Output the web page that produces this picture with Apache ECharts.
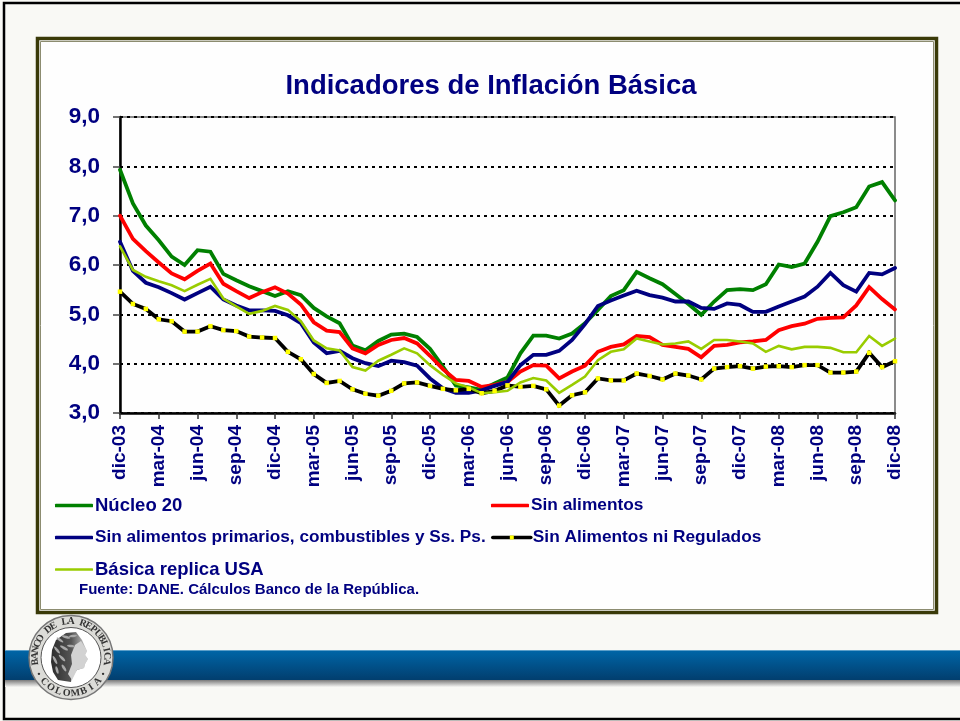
<!DOCTYPE html>
<html>
<head>
<meta charset="utf-8">
<script src="https://cdn.jsdelivr.net/npm/echarts@6/dist/echarts.min.js"></script>
<style>html,body{margin:0;padding:0;background:#f9f9f5}#c{width:960px;height:721px}</style>
</head>
<body>
<div id="c"></div>
<script>
const titleText = 'Indicadores de Inflación Básica';
const sourceText = 'Fuente: DANE. Cálculos Banco de la República.';
const categories = [
'dic-03','ene-04','feb-04','mar-04','abr-04','may-04','jun-04','jul-04','ago-04','sep-04','oct-04','nov-04',
'dic-04','ene-05','feb-05','mar-05','abr-05','may-05','jun-05','jul-05','ago-05','sep-05','oct-05','nov-05',
'dic-05','ene-06','feb-06','mar-06','abr-06','may-06','jun-06','jul-06','ago-06','sep-06','oct-06','nov-06',
'dic-06','ene-07','feb-07','mar-07','abr-07','may-07','jun-07','jul-07','ago-07','sep-07','oct-07','nov-07',
'dic-07','ene-08','feb-08','mar-08','abr-08','may-08','jun-08','jul-08','ago-08','sep-08','oct-08','nov-08','dic-08'];
const nucleo20 = [7.93,7.25,6.8,6.5,6.17,6.0,6.3,6.27,5.82,5.69,5.57,5.47,5.37,5.47,5.39,5.13,4.96,4.82,4.37,4.27,4.46,4.59,4.61,4.54,4.3,3.94,3.56,3.52,3.47,3.6,3.72,4.21,4.57,4.57,4.51,4.61,4.82,5.09,5.37,5.49,5.86,5.73,5.61,5.41,5.21,4.99,5.26,5.49,5.51,5.49,5.61,6.01,5.96,6.03,6.47,6.99,7.07,7.17,7.59,7.68,7.31];
const sinAlimentos = [7.0,6.53,6.28,6.05,5.83,5.71,5.88,6.03,5.62,5.47,5.33,5.45,5.55,5.42,5.2,4.84,4.67,4.64,4.31,4.21,4.38,4.48,4.52,4.41,4.16,3.89,3.67,3.65,3.53,3.57,3.63,3.84,3.97,3.96,3.7,3.84,3.96,4.24,4.34,4.39,4.56,4.54,4.38,4.34,4.3,4.13,4.36,4.38,4.43,4.45,4.48,4.68,4.76,4.81,4.91,4.93,4.94,5.18,5.55,5.31,5.1];
const sinPrimarios = [6.47,5.88,5.64,5.55,5.43,5.3,5.43,5.56,5.3,5.18,5.08,5.08,5.07,4.98,4.82,4.43,4.21,4.26,4.11,4.01,3.95,4.06,4.03,3.96,3.7,3.5,3.41,3.41,3.46,3.55,3.63,3.97,4.18,4.18,4.26,4.48,4.8,5.17,5.28,5.38,5.48,5.39,5.34,5.26,5.26,5.13,5.11,5.22,5.19,5.05,5.05,5.16,5.26,5.36,5.56,5.84,5.59,5.46,5.84,5.81,5.94];
const sinRegulados = [5.46,5.21,5.11,4.9,4.86,4.65,4.65,4.76,4.68,4.66,4.55,4.53,4.52,4.24,4.09,3.79,3.61,3.65,3.48,3.39,3.35,3.45,3.6,3.62,3.55,3.49,3.46,3.49,3.4,3.45,3.56,3.53,3.55,3.48,3.15,3.36,3.42,3.7,3.66,3.66,3.8,3.75,3.68,3.8,3.76,3.68,3.9,3.93,3.95,3.9,3.94,3.95,3.93,3.97,3.97,3.82,3.82,3.84,4.22,3.93,4.05];
const basicaUSA = [6.38,5.9,5.76,5.67,5.59,5.47,5.6,5.72,5.32,5.16,5.01,5.07,5.17,5.09,4.86,4.47,4.31,4.27,3.93,3.86,4.06,4.18,4.31,4.21,3.97,3.77,3.6,3.52,3.4,3.42,3.45,3.62,3.71,3.66,3.41,3.57,3.74,4.07,4.24,4.29,4.51,4.45,4.39,4.41,4.45,4.3,4.48,4.48,4.45,4.41,4.24,4.36,4.29,4.34,4.34,4.32,4.23,4.23,4.56,4.36,4.51];
const navy = '#000080';
const font = '"Liberation Sans", Arial, sans-serif';

function mkLine(name, data, color, width, extra) {
  return Object.assign({
    name, type: 'line', data, symbol: 'none', showSymbol: false, smooth: false,
    lineStyle: { color, width, cap: 'round', join: 'miter' },
    itemStyle: { color }, silent: true, animation: false
  }, extra || {});
}
function mkLegend(name, left, top, fs, color, h) {
  const item = color ? { name, icon: 'roundRect', itemStyle: { color } } : { name };
  return {
    data: [item], left, top, padding: 0, itemWidth: 38, itemHeight: h, symbolSize: 4.5,
    lineStyle: { width: 3.6 },
    textStyle: { color: navy, fontFamily: font, fontWeight: 'bold', fontSize: fs, padding: [0,0,0,-3] },
    selectedMode: false
  };
}

// Seal lettering
const cx = 71, cy = 657.5;
const sealEls = [];
function ringText(str, from, to, r, bottom) {
  const n = str.length;
  for (let i = 0; i < n; i++) {
    const t = (from + (to - from) * i / (n - 1)) * Math.PI / 180;
    if (str[i] === ' ') continue;
    sealEls.push({
      type: 'text', x: cx + r * Math.sin(t), y: cy - r * Math.cos(t),
      rotation: bottom ? Math.PI - t : -t, z: 6,
      style: { text: str[i], fill: '#333', font: 'bold 10px "Liberation Serif", serif', align: 'center', verticalAlign: 'middle' }
    });
  }
}
ringText('BANCO DE LA REPUBLICA', -97, 97, 36, false);
ringText('COLOMBIA', 228, 132, 36, true);
[-117, 117].forEach(d => {
  const t = d * Math.PI / 180;
  sealEls.push({ type: 'circle', z: 6, shape: { cx: cx + 36 * Math.sin(t), cy: cy - 36 * Math.cos(t), r: 1.2 }, style: { fill: '#333' } });
});
// Laurel strokes in the hair
[[60,640,8,-0.6],[66,637,9,-0.3],[73,636,8,0.1],[57,650,9,-0.9],[64,648,9,-0.5],[71,646,8,-0.1],[55,660,9,-1.1],[62,658,9,-0.8],[57,670,8,-1.3],[64,668,8,-1]].forEach(p => {
  sealEls.push({ type: 'ellipse', z: 7, shape: { cx: 0, cy: 0, rx: p[2] / 2, ry: 1.3 }, x: p[0], y: p[1], rotation: p[3], style: { fill: '#a8a8a8' } });
});

const option = {
  backgroundColor: '#f9f9f5',
  animation: false,
  title: { text: titleText, left: 486, textAlign: 'center', top: 67, textStyle: { color: navy, fontFamily: font, fontWeight: 'bold', fontSize: 27.5 } },
  grid: { left: 120, right: 65, top: 117, bottom: 308, show: true, backgroundColor: 'transparent', borderColor: '#666', borderWidth: 1.5 },
  legend: [
    mkLegend('Núcleo 20', 55, 496, 18.5, '#008000', 3.6),
    mkLegend('Sin alimentos', 491, 497, 17.3, '#ff0000', 3.6),
    mkLegend('Sin alimentos primarios, combustibles y Ss. Ps.', 55, 529, 17.2, '#000080', 3.6),
    mkLegend('Sin Alimentos ni Regulados', 491, 529, 17.3, null, 5),
    mkLegend('Básica replica USA', 55, 560, 18.5, '#99cc00', 2.6)
  ],
  xAxis: {
    type: 'category', data: categories, boundaryGap: false,
    axisLine: { lineStyle: { color: '#000', width: 2.5 } },
    axisTick: { interval: 2, length: 6, lineStyle: { color: '#333', width: 1.5 } },
    axisLabel: { interval: 2, rotate: 90, margin: 12, color: navy, fontFamily: font, fontWeight: 'bold', fontSize: 19, hideOverlap: false, showMaxLabel: true },
    splitLine: { show: false }
  },
  yAxis: {
    type: 'value', min: 3, max: 9, interval: 1,
    axisLine: { show: true, lineStyle: { color: '#000', width: 2.5 } },
    axisTick: { show: true, length: 7, lineStyle: { color: '#444', width: 1.5 } },
    axisLabel: { margin: 20, color: navy, fontFamily: font, fontWeight: 'bold', fontSize: 22.5, padding: [2, 0, 0, 0], formatter: v => v.toFixed(1).replace('.', ',') },
    splitLine: { show: true, lineStyle: { color: '#000', width: 2, type: [3, 4] } }
  },
  series: [
    mkLine('Núcleo 20', nucleo20, '#008000', 3.8),
    mkLine('Sin alimentos', sinAlimentos, '#ff0000', 3.8),
    mkLine('Sin alimentos primarios, combustibles y Ss. Ps.', sinPrimarios, '#000080', 3.8),
    mkLine('Sin Alimentos ni Regulados', sinRegulados, '#000000', 3.8, {
      symbol: 'rect', symbolSize: 4.5, showSymbol: true, showAllSymbol: true, itemStyle: { color: '#ffff00', borderWidth: 0 }
    }),
    mkLine('Básica replica USA', basicaUSA, '#99cc00', 2.6)
  ],
  graphic: { elements: [
    // slide frame
    { type: 'rect', z: -10, shape: { x: 4, y: 3, width: 970, height: 716 }, style: { fill: '#f9f9f5', stroke: '#000', lineWidth: 2.5 } },
    // band
    { type: 'rect', z: -9, shape: { x: 5, y: 680, width: 955, height: 7 }, style: { fill: { type: 'linear', x: 0, y: 0, x2: 0, y2: 1, colorStops: [{ offset: 0, color: '#7a7a7a' }, { offset: 1, color: '#f6f6f3' }] } } },
    { type: 'rect', z: -9, shape: { x: 5, y: 650, width: 955, height: 30 }, style: { fill: { type: 'linear', x: 0, y: 0, x2: 0, y2: 1, colorStops: [{ offset: 0, color: '#0066a8' }, { offset: 1, color: '#023e6e' }] } } },
    { type: 'rect', z: -9, shape: { x: 5, y: 650, width: 955, height: 1 }, style: { fill: '#5d9fc9' } },
    // chart frame
    { type: 'rect', z: -8, shape: { x: 37.5, y: 38.5, width: 899, height: 574 }, style: { fill: '#fefefe', stroke: '#3a3a08', lineWidth: 3.5 } },
    { type: 'rect', z: -7, shape: { x: 40.5, y: 41.5, width: 893, height: 568 }, style: { fill: '#fefefe', stroke: '#8c8c70', lineWidth: 1 } },
    // source note
    { type: 'text', z: 5, x: 79, y: 590, style: { text: sourceText, fill: navy, font: 'bold 15px ' + font, verticalAlign: 'middle' } },
    // seal
    { type: 'circle', z: 5, shape: { cx, cy, r: 42 }, style: { fill: '#dcdcd8', stroke: '#777', lineWidth: 1.5 } },
    { type: 'circle', z: 5, shape: { cx, cy, r: 30 }, style: { fill: '#ffffff', stroke: '#555', lineWidth: 1 } },
    { type: 'polygon', z: 6, shape: { points: [[66,633],[76,632],[82,640],[87,651],[85,655],[88,659],[85,664],[84,668],[77,670],[72,676],[71,682],[58,680],[53,672],[51,662],[52,650],[56,640]] },
      style: { fill: { type: 'linear', x: 0, y: 0, x2: 1, y2: 0, colorStops: [{ offset: 0, color: '#2c2c2c' }, { offset: 0.55, color: '#555' }, { offset: 1, color: '#d8d8d8' }] } } },
    { type: 'polygon', z: 6, shape: { points: [[75,645],[81,641],[87,651],[85,655],[88,659],[85,664],[84,668],[77,670],[72,680],[68,674],[72,664],[71,655]] }, style: { fill: '#d2d2d2' } }
  ].concat(sealEls) }
};
const chart = echarts.init(document.getElementById('c'), null, { renderer: 'canvas' });
chart.setOption(option);
</script>
</body>
</html>
